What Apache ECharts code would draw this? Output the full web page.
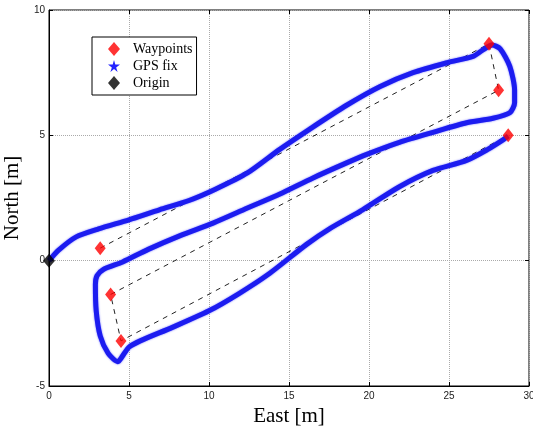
<!DOCTYPE html>
<html>
<head>
<meta charset="utf-8">
<script src="https://cdn.jsdelivr.net/npm/echarts@6/dist/echarts.min.js"></script>
<style>
html,body{margin:0;padding:0;background:#fff;}
#main{width:533px;height:430px;}
</style>
</head>
<body>
<div id="main"></div>
<script>
// GPS track (East / North, metres)
var trackX = [0, 0.6, 1.7, 3.1, 5.0, 6.9, 8.75, 10.4, 12.4, 14.4, 16.3, 18.6, 20.7, 22.75, 24.9, 26.5, 27.1, 27.7, 28.2, 28.8, 29.1, 29.1, 28.8, 27.75, 26.1, 24.0, 21.9, 19.9, 18.6, 16.5, 14.4, 12.4, 10.25, 8.2, 6.2, 4.6, 3.4, 3.0, 2.9, 2.95, 3.2, 3.7, 4.3, 4.7, 5.0, 5.7, 7.75, 10.0, 11.9, 13.8, 16.1, 17.6, 19.6, 21.9, 24.0, 26.1, 27.4, 28.4, 28.7];
var trackY = [0, 0.42, 0.95, 1.27, 1.63, 2.03, 2.4, 2.85, 3.5, 4.43, 5.25, 6.2, 6.95, 7.5, 7.9, 8.15, 8.4, 8.6, 8.45, 7.75, 6.8, 6.3, 5.9, 5.68, 5.5, 5.12, 4.72, 4.25, 3.9, 3.3, 2.65, 2.1, 1.5, 1.0, 0.45, -0.05, -0.35, -0.6, -0.95, -2.0, -3.0, -3.7, -4.03, -3.7, -3.45, -3.2, -2.65, -2.0, -1.3, -0.5, 0.65, 1.3, 2.03, 2.95, 3.6, 4.0, 4.43, 4.83, 4.97];

// waypoints in the order the dashed path visits them
var wpX = [3.2, 27.5, 28.1, 3.85, 4.5, 28.7];
var wpY = [0.5, 8.65, 6.8, -1.35, -3.2, 5.0];

var originX = [0];
var originY = [0];

function pairs(xs, ys) {
    var out = [];
    for (var i = 0; i < xs.length; i++) {
        out.push([xs[i], ys[i]]);
    }
    return out;
}

var myChart = echarts.init(document.getElementById('main'));

var serif = '"Liberation Serif", "DejaVu Serif", serif';
var sans = '"Liberation Sans", "DejaVu Sans", sans-serif';
var starPath = 'path://M50,0 L61,38 L100,38 L68,62 L80,100 L50,76 L20,100 L32,62 L0,38 L39,38 Z';

var option = {
    animation: false,
    grid: {
        left: 49,
        right: 4,
        top: 10,
        bottom: 44,
        containLabel: false,
        outerBoundsMode: 'none',
        show: true,
        borderColor: '#000',
        borderWidth: 1,
        backgroundColor: '#fff'
    },
    legend: {
        orient: 'vertical',
        left: 92,
        top: 37,
        padding: [5, 4, 5, 16],
        itemGap: 3,
        itemWidth: 12,
        itemHeight: 14,
        backgroundColor: '#fff',
        borderColor: '#000',
        borderWidth: 1,
        borderRadius: 0,
        textStyle: {fontFamily: serif, fontSize: 14, color: '#000', padding: [0, 0, 0, 8]},
        data: [
            {name: 'Waypoints', icon: 'diamond', itemStyle: {color: '#f00'}},
            {name: 'GPS fix', icon: starPath, itemStyle: {color: '#22f'}},
            {name: 'Origin', icon: 'diamond', itemStyle: {color: '#000'}}
        ]
    },
    xAxis: [{
        type: 'value',
        min: 0,
        max: 30,
        interval: 5,
        name: 'East [m]',
        nameLocation: 'middle',
        nameGap: 13,
        nameTextStyle: {fontFamily: serif, fontSize: 21, color: '#000'},
        axisLine: {show: true, onZero: false, lineStyle: {color: '#000'}},
        axisTick: {show: true, inside: true, length: 4, lineStyle: {color: '#000'}},
        axisLabel: {fontFamily: sans, fontSize: 10, color: '#222', margin: 5},
        splitLine: {show: true, lineStyle: {color: '#aaa', type: 'dotted'}}
    }, {
        type: 'value',
        position: 'top',
        min: 0,
        max: 30,
        interval: 5,
        axisLine: {show: false, onZero: false},
        axisTick: {show: true, inside: true, length: 4, lineStyle: {color: '#000'}},
        axisLabel: {show: false},
        splitLine: {show: false}
    }],
    yAxis: [{
        type: 'value',
        min: -5,
        max: 10,
        interval: 5,
        name: 'North [m]',
        nameLocation: 'middle',
        nameGap: 19,
        nameTextStyle: {fontFamily: serif, fontSize: 21, color: '#000'},
        axisLine: {show: true, onZero: false, lineStyle: {color: '#000'}},
        axisTick: {show: true, inside: true, length: 4, lineStyle: {color: '#000'}},
        axisLabel: {fontFamily: sans, fontSize: 10, color: '#222', margin: 4},
        splitLine: {show: true, lineStyle: {color: '#aaa', type: 'dotted'}}
    }, {
        type: 'value',
        position: 'right',
        min: -5,
        max: 10,
        interval: 5,
        axisLine: {show: false, onZero: false},
        axisTick: {show: true, inside: true, length: 4, lineStyle: {color: '#000'}},
        axisLabel: {show: false},
        splitLine: {show: false}
    }],
    series: [
        { // dashed reference path between waypoints
            name: 'path',
            type: 'line',
            data: pairs(wpX, wpY),
            symbol: 'none',
            lineStyle: {color: '#222', width: 1, type: [5, 5]},
            z: 2
        },
        {
            name: 'GPS fix',
            type: 'line',
            data: pairs(trackX, trackY),
            symbol: 'none',
            smooth: 0.25,
            lineStyle: {
                color: '#1c1cf0',
                width: 5,
                shadowColor: 'rgba(40,40,255,0.7)',
                shadowBlur: 2
            },
            z: 3
        },
        {
            name: 'Waypoints',
            type: 'scatter',
            data: pairs(wpX, wpY),
            symbol: 'diamond',
            symbolSize: [11, 14],
            itemStyle: {color: '#f00'},
            z: 4
        },
        {
            name: 'Origin',
            type: 'scatter',
            data: pairs(originX, originY),
            symbol: 'diamond',
            symbolSize: [12, 14],
            itemStyle: {color: '#000'},
            z: 5
        }
    ]
};

myChart.setOption(option);
</script>
</body>
</html>
